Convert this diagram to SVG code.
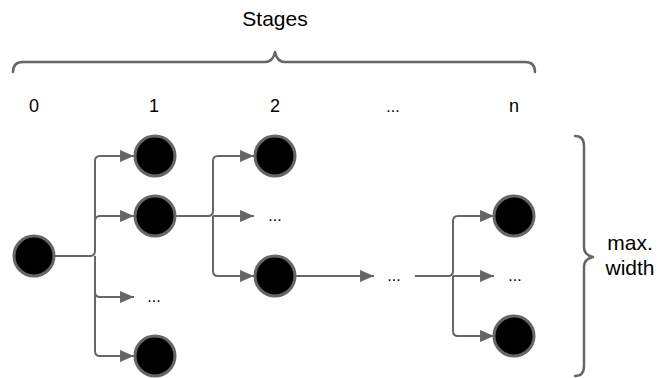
<svg xmlns="http://www.w3.org/2000/svg" width="657" height="378" viewBox="0 0 657 378">
  <style>
    .node { fill: #000; stroke: #666; stroke-width: 3; }
    .edge { fill: none; stroke: #666; stroke-width: 2; }
    .brace { fill: none; stroke: #666; stroke-width: 2.5; stroke-linecap: round; stroke-linejoin: round; }
    .title { font-family: "Liberation Sans", Arial, sans-serif; font-size: 21px; fill: #000; text-anchor: middle; }
    .label { font-family: "Liberation Sans", Arial, sans-serif; font-size: 18px; fill: #000; text-anchor: middle; }
    .dots { font-family: "Liberation Sans", Arial, sans-serif; font-size: 16px; fill: #000; text-anchor: middle; }
  </style>
  <defs>
    <marker id="arrow" markerUnits="userSpaceOnUse" markerWidth="14" markerHeight="12" refX="14" refY="6" orient="auto">
      <path d="M0,0 L14,6 L0,12 Z" fill="#666"/>
    </marker>
  </defs>
  <rect width="657" height="378" fill="#fff"/>

  <!-- stage axis -->
  <g id="stages-axis">
    <text class="title" x="275" y="26">Stages</text>
    <path class="brace" d="M13,72 Q13,62 23,62 H265 Q273,62 275,52 Q277,62 285,62 H525 Q535,62 535,72"/>
    <text class="label" x="34" y="112">0</text>
    <text class="label" x="154" y="112">1</text>
    <text class="label" x="275" y="112">2</text>
    <text class="dots" x="393" y="112">...</text>
    <text class="label" x="514" y="112">n</text>
  </g>

  <!-- width axis -->
  <g id="width-axis">
    <path class="brace" d="M575,136 Q584,136 584,146 V247 Q584,255 593,257 Q584,259 584,267 V366 Q584,376 575,376"/>
    <text class="title" x="630" y="250">max.</text>
    <text class="title" x="630" y="275">width</text>
  </g>

  <!-- connectors -->
  <g id="connectors">
    <path class="edge" d="M54,256 H90 Q95,256 95,251 V161 Q95,156 100,156 H134" marker-end="url(#arrow)"/>
    <path class="edge" d="M95,221 Q95,216 100,216 H134" marker-end="url(#arrow)"/>
    <path class="edge" d="M95,256 V292 Q95,297 100,297 H134" marker-end="url(#arrow)"/>
    <path class="edge" d="M95,292 V351 Q95,356 100,356 H134" marker-end="url(#arrow)"/>

    <path class="edge" d="M175,216 H208 Q213,216 213,211 V161 Q213,156 218,156 H254" marker-end="url(#arrow)"/>
    <path class="edge" d="M213,216 H254" marker-end="url(#arrow)"/>
    <path class="edge" d="M213,216 V271 Q213,276 218,276 H254" marker-end="url(#arrow)"/>

    <path class="edge" d="M296,276 H374" marker-end="url(#arrow)"/>

    <path class="edge" d="M415,276 H448 Q453,276 453,271 V221 Q453,216 458,216 H494" marker-end="url(#arrow)"/>
    <path class="edge" d="M453,276 H494" marker-end="url(#arrow)"/>
    <path class="edge" d="M453,276 V331 Q453,336 458,336 H494" marker-end="url(#arrow)"/>
  </g>

  <!-- stage 0 -->
  <g id="n0"><circle class="node" cx="34" cy="256" r="20"/></g>

  <!-- stage 1 -->
  <g id="n1a"><circle class="node" cx="155" cy="156" r="20"/></g>
  <g id="n1b"><circle class="node" cx="155" cy="216" r="20"/></g>
  <g id="n1c"><text class="dots" x="154" y="302">...</text></g>
  <g id="n1d"><circle class="node" cx="155" cy="356" r="20"/></g>

  <!-- stage 2 -->
  <g id="n2a"><circle class="node" cx="275" cy="156" r="20"/></g>
  <g id="n2b"><text class="dots" x="275" y="221">...</text></g>
  <g id="n2c"><circle class="node" cx="275" cy="276" r="20"/></g>

  <!-- intermediate stages -->
  <g id="nmid"><text class="dots" x="394" y="281">...</text></g>

  <!-- stage n -->
  <g id="nna"><circle class="node" cx="514" cy="216" r="20"/></g>
  <g id="nnb"><text class="dots" x="515" y="281">...</text></g>
  <g id="nnc"><circle class="node" cx="514" cy="336" r="20"/></g>
</svg>
